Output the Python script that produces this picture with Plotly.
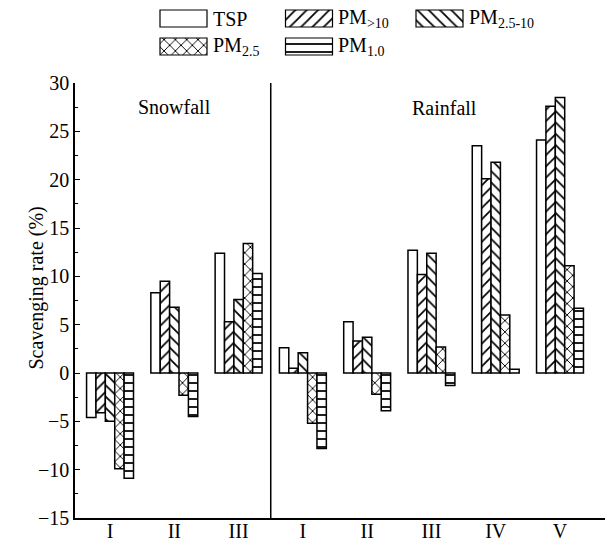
import plotly.graph_objects as go

# ---------------- data ----------------
categories = ["I", "II", "III", "I", "II", "III", "IV", "V"]
groups = ["Snowfall", "Rainfall"]
series_names = ["TSP", "PM<sub>>10</sub>", "PM<sub>2.5-10</sub>", "PM<sub>2.5</sub>", "PM<sub>1.0</sub>"]
tsp = [-4.6, 8.3, 12.4, 2.6, 5.3, 12.7, 23.5, 24.1]
pm_gt10 = [-4.1, 9.5, 5.3, 0.5, 3.3, 10.2, 20.1, 27.6]
pm25_10 = [-5.0, 6.8, 7.6, 2.1, 3.7, 12.4, 21.8, 28.5]
pm25 = [-9.9, -2.3, 13.4, -5.2, -2.2, 2.7, 6.0, 11.1]
pm10 = [-10.9, -4.5, 10.3, -7.8, -3.9, -1.3, 0.4, 6.7]
y_ticks = [-15, -10, -5, 0, 5, 10, 15, 20, 25, 30]

series_values = [tsp, pm_gt10, pm25_10, pm25, pm10]
patterns = ["", "/", "\\", "x", "-"]

FONT = "Liberation Serif"
W, H = 605, 543
x_pos = list(range(len(categories)))

# layout geometry (paper fractions)
xd = [75 / W, 1.0]
yd = [25 / H, 1 - 83 / H]
yr = [-15, 30]
zero_pos = yd[0] + (yd[1] - yd[0]) * (0 - yr[0]) / (yr[1] - yr[0])
xr = [-0.545, 7.70]

fig = go.Figure()

for name, vals, pat in zip(series_names, series_values, patterns):
    fig.add_trace(go.Bar(
        x=x_pos, y=vals, name=name, showlegend=False,
        marker=dict(color="white", line=dict(color="black", width=1.5),
                    pattern=dict(shape=pat, fgcolor="black", bgcolor="white",
                                 size=8, solidity=0.22, fillmode="replace")),
        xaxis="x", yaxis="y",
    ))

# legend swatches drawn as bars in a pixel-scaled helper axis
leg_x = [183.5, 309, 439.5, 183.5, 309]
leg_top = [10, 10, 10, 38, 38]
leg_text_x = [211, 336, 467, 211, 336]
for name, pat, lx, lt, tx in zip(series_names, patterns, leg_x, leg_top, leg_text_x):
    fig.add_trace(go.Bar(
        x=[lx], y=[17], base=[lt], width=[47], offset=[-23.5], showlegend=False,
        marker=dict(color="white", line=dict(color="black", width=1.2),
                    pattern=dict(shape=pat, fgcolor="black", bgcolor="white",
                                 size=8, solidity=0.22, fillmode="replace")),
        xaxis="x4", yaxis="y4", hoverinfo="skip",
    ))
    fig.add_annotation(x=tx, y=lt + 8.5, xref="x4", yref="y4", text=name,
                       showarrow=False, xanchor="left", yanchor="middle",
                       font=dict(family=FONT, size=20, color="black"))

# group labels
fig.add_annotation(x=1, y=27.5, xref="x", yref="y", text=groups[0], showarrow=False,
                   font=dict(family=FONT, size=20, color="black"))
fig.add_annotation(x=5.2, y=27.4, xref="x", yref="y", text=groups[1], showarrow=False,
                   font=dict(family=FONT, size=20, color="black"))

# y-axis title
fig.add_annotation(x=22 / W, y=1 - 288 / H, xref="paper", yref="paper",
                   text="Scavenging rate (%)", textangle=-90, showarrow=False,
                   font=dict(family=FONT, size=20, color="black"))

# divider between snowfall and rainfall
fig.add_shape(type="line", x0=2.5, x1=2.5, y0=yr[0], y1=yr[1], xref="x", yref="y",
              line=dict(color="black", width=1.5))

fig.update_layout(
    width=W, height=H, margin=dict(l=0, r=0, t=0, b=0),
    paper_bgcolor="white", plot_bgcolor="white",
    barmode="group", bargap=0.27, bargroupgap=0,
    font=dict(family=FONT, size=20, color="black"),
    xaxis=dict(domain=xd, range=xr, tickvals=x_pos, ticktext=categories,
               showline=True, linecolor="black", linewidth=1.5, ticks="",
               ticklabelstandoff=-6,
               showgrid=False, zeroline=False, automargin=False,
               tickfont=dict(family=FONT, size=20, color="black"), anchor="y"),
    xaxis2=dict(overlaying="x", side="top", range=xr, showline=True, linecolor="black",
                linewidth=1.5, ticks="inside", ticklen=4, tickcolor="black",
                tick0=0, dtick=0.5, showticklabels=False, showgrid=False,
                zeroline=False, anchor="y"),
    xaxis3=dict(overlaying="x", anchor="free", position=zero_pos, range=xr,
                showline=True, linecolor="black", linewidth=1.5, ticks="inside",
                ticklen=6, tickcolor="black",
                tickvals=[p + 0.5 for p in x_pos[:-1]],
                showticklabels=False, showgrid=False, zeroline=False),
    yaxis=dict(domain=yd, range=yr, tickvals=y_ticks, ticks="inside", ticklen=5,
               tickcolor="black", tickwidth=1.2,
               minor=dict(dtick=2.5, ticks="inside", ticklen=3, tickcolor="black"),
               showline=True, linecolor="black", linewidth=1.5, showgrid=False,
               zeroline=False, automargin=False,
               tickfont=dict(family=FONT, size=20, color="black"), anchor="x"),
    xaxis4=dict(domain=[0, 1], range=[0, W], visible=False, anchor="y4"),
    yaxis4=dict(domain=[1 - 60 / H, 1], range=[60, 0], visible=False, anchor="x4"),
)

fig.write_html("out.html")
